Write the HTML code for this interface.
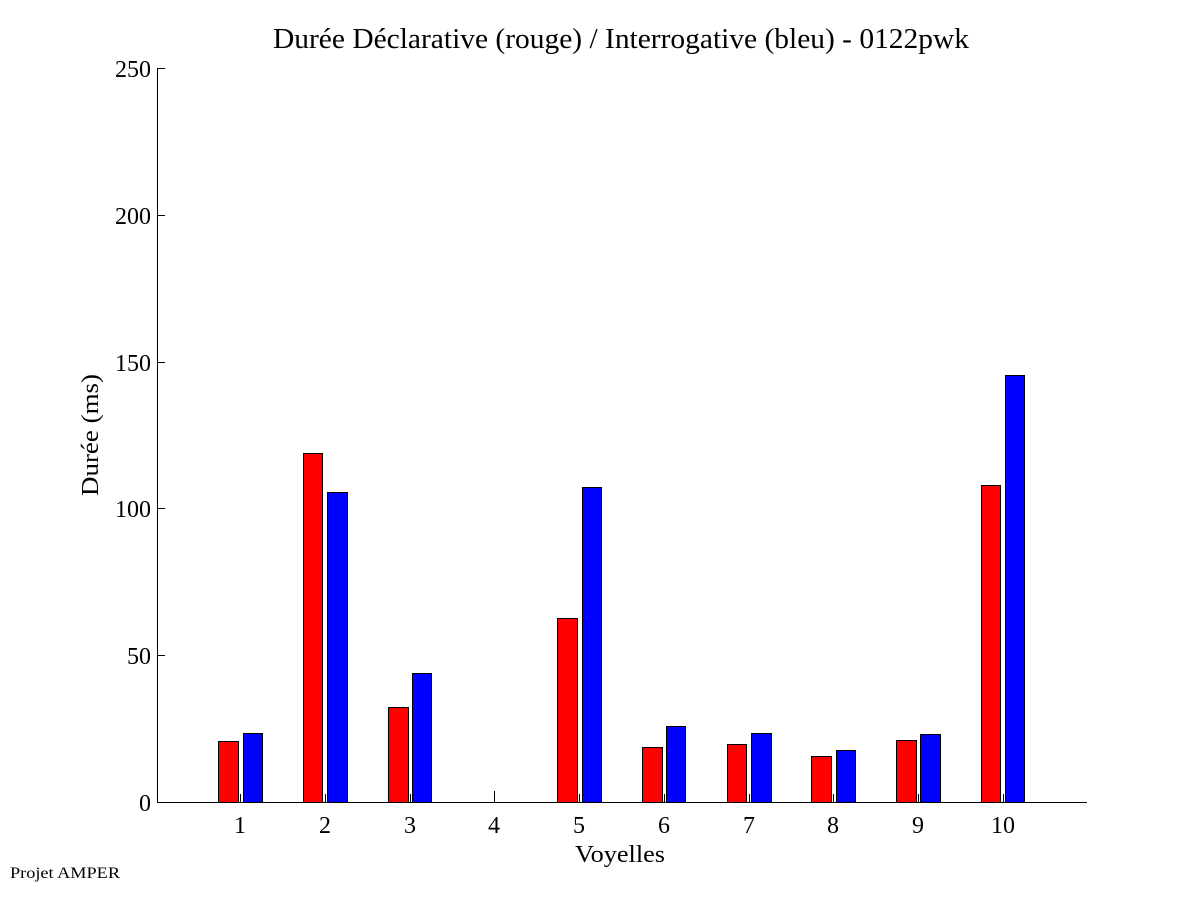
<!DOCTYPE html>
<html><head><meta charset="utf-8"><style>body{margin:0;background:#fff}</style></head><body>
<svg width="1201" height="901" xmlns="http://www.w3.org/2000/svg" font-family="Liberation Serif, serif">
<rect width="1201" height="901" fill="#fff"/>
<text x="273" y="48" font-size="28" textLength="696" lengthAdjust="spacingAndGlyphs">Durée Déclarative (rouge) / Interrogative (bleu) - 0122pwk</text>
<g stroke="#000" stroke-width="1">
<line x1="157.5" y1="68" x2="157.5" y2="802"/>
<line x1="157" y1="802.5" x2="1087" y2="802.5"/>
<line x1="157" y1="68.5" x2="165" y2="68.5"/>
<line x1="157" y1="215.5" x2="165" y2="215.5"/>
<line x1="157" y1="362.5" x2="165" y2="362.5"/>
<line x1="157" y1="508.5" x2="165" y2="508.5"/>
<line x1="157" y1="655.5" x2="165" y2="655.5"/>
</g>
<g font-size="24" text-anchor="end">
<text x="151" y="77">250</text><text x="151" y="224">200</text><text x="151" y="371">150</text><text x="151" y="517">100</text><text x="151" y="664">50</text><text x="151" y="811">0</text>
</g>
<text transform="translate(98,496) rotate(-90)" font-size="24" textLength="122" lengthAdjust="spacingAndGlyphs">Durée (ms)</text>
<text x="575" y="862" font-size="24" textLength="90" lengthAdjust="spacingAndGlyphs">Voyelles</text>
<text x="10" y="878" font-size="16" textLength="110" lengthAdjust="spacingAndGlyphs">Projet AMPER</text>
<g stroke="#000" stroke-width="1">
<rect x="218.5" y="741.5" width="20" height="61" fill="#f00"/><rect x="243.5" y="733.5" width="19" height="69" fill="#00f"/>
<rect x="303.5" y="453.5" width="19" height="349" fill="#f00"/><rect x="327.5" y="492.5" width="20" height="310" fill="#00f"/>
<rect x="388.5" y="707.5" width="20" height="95" fill="#f00"/><rect x="412.5" y="673.5" width="19" height="129" fill="#00f"/>
<rect x="557.5" y="618.5" width="20" height="184" fill="#f00"/><rect x="582.5" y="487.5" width="19" height="315" fill="#00f"/>
<rect x="642.5" y="747.5" width="20" height="55" fill="#f00"/><rect x="666.5" y="726.5" width="19" height="76" fill="#00f"/>
<rect x="727.5" y="744.5" width="19" height="58" fill="#f00"/><rect x="751.5" y="733.5" width="20" height="69" fill="#00f"/>
<rect x="811.5" y="756.5" width="20" height="46" fill="#f00"/><rect x="836.5" y="750.5" width="19" height="52" fill="#00f"/>
<rect x="896.5" y="740.5" width="20" height="62" fill="#f00"/><rect x="920.5" y="734.5" width="20" height="68" fill="#00f"/>
<rect x="981.5" y="485.5" width="19" height="317" fill="#f00"/><rect x="1005.5" y="375.5" width="19" height="427" fill="#00f"/>
</g>
<g stroke="#000" stroke-width="1">
<line x1="240.5" y1="794" x2="240.5" y2="802"/><line x1="325.5" y1="794" x2="325.5" y2="802"/><line x1="410.5" y1="794" x2="410.5" y2="802"/><line x1="494.5" y1="791" x2="494.5" y2="802"/><line x1="579.5" y1="794" x2="579.5" y2="802"/><line x1="664.5" y1="794" x2="664.5" y2="802"/><line x1="749.5" y1="794" x2="749.5" y2="802"/><line x1="833.5" y1="794" x2="833.5" y2="802"/><line x1="918.5" y1="794" x2="918.5" y2="802"/><line x1="1003.5" y1="794" x2="1003.5" y2="802"/>
</g>
<g font-size="24" text-anchor="middle">
<text x="240" y="833">1</text><text x="325" y="833">2</text><text x="410" y="833">3</text><text x="494" y="833">4</text><text x="579" y="833">5</text><text x="664" y="833">6</text><text x="749" y="833">7</text><text x="833" y="833">8</text><text x="918" y="833">9</text><text x="1003" y="833">10</text>
</g>
</svg>
</body></html>
